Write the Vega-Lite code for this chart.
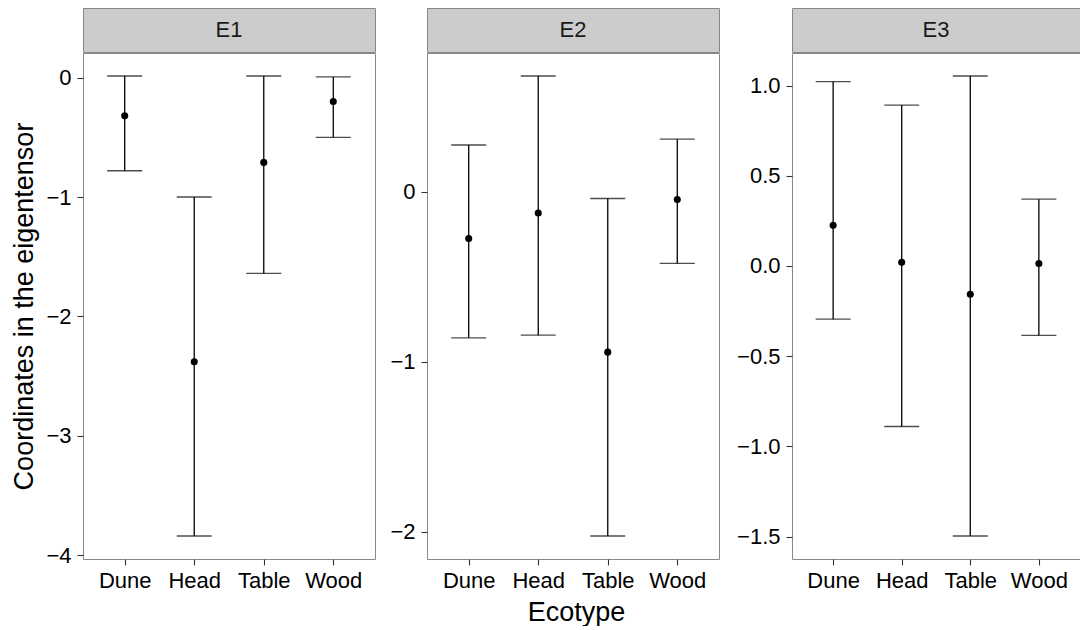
{
  "$schema": "https://vega.github.io/schema/vega-lite/v6.json",
  "background": "white",
  "padding": {"left": 10, "top": 7, "right": 0, "bottom": 0},
  "autosize": {"type": "pad"},
  "data": {"values": [
    {"panel": "E1", "ecotype": "Dune", "mean": -0.32, "lo": -0.78, "hi": 0.014},
    {"panel": "E1", "ecotype": "Head", "mean": -2.38, "lo": -3.84, "hi": -1.0},
    {"panel": "E1", "ecotype": "Table", "mean": -0.71, "lo": -1.64, "hi": 0.014},
    {"panel": "E1", "ecotype": "Wood", "mean": -0.2, "lo": -0.5, "hi": 0.006},
    {"panel": "E2", "ecotype": "Dune", "mean": -0.274, "lo": -0.859, "hi": 0.276},
    {"panel": "E2", "ecotype": "Head", "mean": -0.124, "lo": -0.843, "hi": 0.682},
    {"panel": "E2", "ecotype": "Table", "mean": -0.943, "lo": -2.025, "hi": -0.039},
    {"panel": "E2", "ecotype": "Wood", "mean": -0.045, "lo": -0.421, "hi": 0.31},
    {"panel": "E3", "ecotype": "Dune", "mean": 0.225, "lo": -0.295, "hi": 1.022},
    {"panel": "E3", "ecotype": "Head", "mean": 0.02, "lo": -0.89, "hi": 0.892},
    {"panel": "E3", "ecotype": "Table", "mean": -0.157, "lo": -1.497, "hi": 1.053},
    {"panel": "E3", "ecotype": "Wood", "mean": 0.013, "lo": -0.385, "hi": 0.37}
  ]},
  "align": "none",
  "spacing": 0,
  "hconcat": [
    {
      "spacing": -1,
      "vconcat": [
        {
          "width": 292, "height": 44,
          "transform": [{"filter": "datum.panel === 'E1' && datum.ecotype === 'Dune'"}],
          "view": {"fill": "#cccccc", "stroke": "#888888"},
          "mark": {"type": "text", "fontSize": 22, "font": "Liberation Sans", "color": "#1a1a1a", "baseline": "middle", "align": "center"},
          "encoding": {"text": {"field": "panel", "type": "nominal"}}
        },
        {
          "width": 292, "height": 506,
          "transform": [{"filter": "datum.panel === 'E1'"}],
          "encoding": {
            "x": {"field": "ecotype", "type": "nominal", "scale": {"type": "point", "padding": 0.6, "domain": ["Dune", "Head", "Table", "Wood"]}, "axis": {"title": null, "labelAngle": 0}}
          },
          "layer": [
            {"mark": {"type": "rule", "color": "black", "strokeWidth": 1.3},
             "encoding": {"y": {"field": "lo", "type": "quantitative", "title": "Coordinates in the eigentensor", "scale": {"domain": [-4.0325, 0.2065], "nice": false, "zero": false}, "axis": {"values": [0, -1, -2, -3, -4], "format": "d"}}, "y2": {"field": "hi"}}},
            {"mark": {"type": "tick", "color": "black", "thickness": 1.3, "size": 35},
             "encoding": {"y": {"field": "lo", "type": "quantitative", "title": "Coordinates in the eigentensor"}}},
            {"mark": {"type": "tick", "color": "black", "thickness": 1.3, "size": 35},
             "encoding": {"y": {"field": "hi", "type": "quantitative", "title": "Coordinates in the eigentensor"}}},
            {"mark": {"type": "point", "filled": true, "color": "black", "size": 50, "opacity": 1},
             "encoding": {"y": {"field": "mean", "type": "quantitative", "title": "Coordinates in the eigentensor"}}}
          ]
        }
      ]
    },
    {
      "spacing": -1,
      "vconcat": [
        {
          "width": 292, "height": 44,
          "transform": [{"filter": "datum.panel === 'E2' && datum.ecotype === 'Dune'"}],
          "view": {"fill": "#cccccc", "stroke": "#888888"},
          "mark": {"type": "text", "fontSize": 22, "font": "Liberation Sans", "color": "#1a1a1a", "baseline": "middle", "align": "center"},
          "encoding": {"text": {"field": "panel", "type": "nominal"}}
        },
        {
          "width": 292, "height": 506,
          "transform": [{"filter": "datum.panel === 'E2'"}],
          "encoding": {
            "x": {"field": "ecotype", "type": "nominal", "scale": {"type": "point", "padding": 0.6, "domain": ["Dune", "Head", "Table", "Wood"]}, "axis": {"title": "Ecotype", "labelAngle": 0, "titleX": 149}}
          },
          "layer": [
            {"mark": {"type": "rule", "color": "black", "strokeWidth": 1.3},
             "encoding": {"y": {"field": "lo", "type": "quantitative", "title": null, "scale": {"domain": [-2.1604, 0.8173], "nice": false, "zero": false}, "axis": {"values": [0, -1, -2], "format": "d", "minExtent": 50, "maxExtent": 50}}, "y2": {"field": "hi"}}},
            {"mark": {"type": "tick", "color": "black", "thickness": 1.3, "size": 35},
             "encoding": {"y": {"field": "lo", "type": "quantitative", "title": null}}},
            {"mark": {"type": "tick", "color": "black", "thickness": 1.3, "size": 35},
             "encoding": {"y": {"field": "hi", "type": "quantitative", "title": null}}},
            {"mark": {"type": "point", "filled": true, "color": "black", "size": 50, "opacity": 1},
             "encoding": {"y": {"field": "mean", "type": "quantitative", "title": null}}}
          ]
        }
      ]
    },
    {
      "spacing": -1,
      "vconcat": [
        {
          "width": 288, "height": 44,
          "transform": [{"filter": "datum.panel === 'E3' && datum.ecotype === 'Dune'"}],
          "view": {"fill": "#cccccc", "stroke": "#888888"},
          "mark": {"type": "text", "fontSize": 22, "font": "Liberation Sans", "color": "#1a1a1a", "baseline": "middle", "align": "center"},
          "encoding": {"text": {"field": "panel", "type": "nominal"}}
        },
        {
          "width": 288, "height": 506,
          "transform": [{"filter": "datum.panel === 'E3'"}],
          "encoding": {
            "x": {"field": "ecotype", "type": "nominal", "scale": {"type": "point", "padding": 0.6, "domain": ["Dune", "Head", "Table", "Wood"]}, "axis": {"title": null, "labelAngle": 0}}
          },
          "layer": [
            {"mark": {"type": "rule", "color": "black", "strokeWidth": 1.3},
             "encoding": {"y": {"field": "lo", "type": "quantitative", "title": null, "scale": {"domain": [-1.6245, 1.1805], "nice": false, "zero": false}, "axis": {"values": [1, 0.5, 0, -0.5, -1, -1.5], "format": ".1f", "minExtent": 71, "maxExtent": 71}}, "y2": {"field": "hi"}}},
            {"mark": {"type": "tick", "color": "black", "thickness": 1.3, "size": 35},
             "encoding": {"y": {"field": "lo", "type": "quantitative", "title": null}}},
            {"mark": {"type": "tick", "color": "black", "thickness": 1.3, "size": 35},
             "encoding": {"y": {"field": "hi", "type": "quantitative", "title": null}}},
            {"mark": {"type": "point", "filled": true, "color": "black", "size": 50, "opacity": 1},
             "encoding": {"y": {"field": "mean", "type": "quantitative", "title": null}}}
          ]
        }
      ]
    }
  ],
  "config": {
    "font": "Liberation Sans",
    "view": {"stroke": "#888888", "strokeWidth": 1},
    "axis": {
      "domain": false,
      "grid": false,
      "ticks": true,
      "tickColor": "#333333",
      "tickSize": 6,
      "tickWidth": 1.1,
      "labelFont": "Liberation Sans",
      "labelFontSize": 22,
      "labelColor": "#000000",
      "titleFont": "Liberation Sans",
      "titleFontSize": 27,
      "titleFontWeight": "normal",
      "titleColor": "#000000"
    },
    "axisY": {"labelPadding": 6, "titlePadding": 7},
    "axisX": {"labelPadding": 5, "titlePadding": 8}
  }
}
